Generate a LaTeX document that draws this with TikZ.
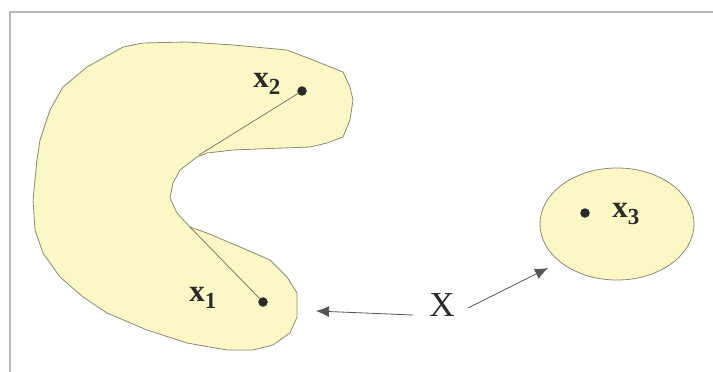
\documentclass[tikz,border=0pt]{standalone}
\usepackage{fontspec}
\setmainfont{Liberation Serif}
\usetikzlibrary{arrows.meta}
\definecolor{setfill}{HTML}{FCF8C6}
\definecolor{setline}{HTML}{8C8A74}
\definecolor{framec}{HTML}{B4B8BC}
\definecolor{inkc}{HTML}{2A2A2A}
\tikzset{
  setshape/.style={fill=setfill, draw=setline, line width=0.8pt, line join=round},
  pointdot/.style={circle, fill=inkc, inner sep=0pt, minimum size=9.5pt},
  ptlabel/.style={inner sep=0pt, text=inkc, font=\fontsize{31}{31}\selectfont\bfseries},
  chord/.style={draw=setline!80!black, line width=0.7pt},
  pointer/.style={draw=inkc!80, line width=0.8pt, -{Latex[length=13pt,width=11pt]}},
  framel/.style={draw=framec, line width=1.2pt}
}
\begin{document}
\begin{tikzpicture}[x=1pt,y=-1pt]
\useasboundingbox (0,0) rectangle (713,372);
\fill[white] (0,0) rectangle (713,372);
% frame (top and left edges)
\draw[framel] (713,12) -- (10,12) -- (10,372);
% kidney-shaped set
\draw[setshape] (123,47) -- (143,43) -- (187,42) -- (233,45) -- (287,50) -- (313,60)
  -- (343,72) -- (350,87) -- (353,100) -- (350,120) -- (343,137) -- (327,143)
  -- (310,147) -- (283,148) -- (233,150) -- (207,153) -- (197,157) -- (180,170)
  -- (173,183) -- (170,198) -- (177,213) -- (190,227) -- (207,233) -- (240,247)
  -- (270,260) -- (287,277) -- (297,293) -- (297,317) -- (290,333) -- (273,345)
  -- (253,350) -- (227,350) -- (187,343) -- (147,330) -- (107,313) -- (83,297)
  -- (60,277) -- (43,253) -- (35,230) -- (33,200) -- (37,160) -- (40,140)
  -- (50,110) -- (63,87) -- (87,67) -- cycle;
% ellipse set
\draw[setshape] (617,224) ellipse [x radius=77, y radius=56];
% points
\node[pointdot] (p2) at (302,91) {};
\node[pointdot] (p1) at (263,302) {};
\node[pointdot] (p3) at (585,213) {};
\coordinate (b2) at (199,155);
\coordinate (b1) at (189,226);
\draw[chord] (p2) -- (b2);
\draw[chord] (p1) -- (b1);
% labels
\node[ptlabel] (l2) at (267,84) {x\textsubscript{\fontsize{23}{23}\selectfont 2}};
\node[ptlabel] (l1) at (203,298) {x\textsubscript{\fontsize{23}{23}\selectfont 1}};
\node[ptlabel] (l3) at (626,214) {x\textsubscript{\fontsize{23}{23}\selectfont 3}};
\node[inner sep=0pt, text=inkc, font=\fontsize{35}{35}\selectfont] (X) at (442,305) {X};
\coordinate (t1) at (316,311);
\coordinate (t2) at (548,268);
\draw[pointer] (413,315) -- (t1);
\draw[pointer] (468,308) -- (t2);
\end{tikzpicture}
\end{document}
